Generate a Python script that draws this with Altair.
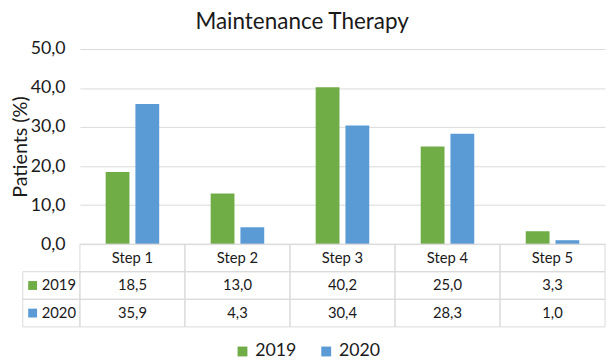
import altair as alt
import pandas as pd

# ---- data ----
steps = ["Step 1", "Step 2", "Step 3", "Step 4", "Step 5"]
years = ["2019", "2020"]
values_2019 = [18.5, 13.0, 40.2, 25.0, 3.3]
values_2020 = [35.9, 4.3, 30.4, 28.3, 1.0]
y_ticks = [0, 10, 20, 30, 40, 50]
row_keys = ["hdr", "2019", "2020"]
title_text = "Maintenance Therapy"
y_title = "Patients (%)"
colors = ["#70AD47", "#5B9BD5"]

F = "Lato"
TXT = "#1a1a1a"
GRID = "#D9D9D9"


def fmt(v):
    return f"{v:.1f}".replace(".", ",")


bar_rows = []
for s, a, b in zip(steps, values_2019, values_2020):
    bar_rows.append({"step": s, "year": years[0], "value": a})
    bar_rows.append({"step": s, "year": years[1], "value": b})
bars_df = pd.DataFrame(bar_rows)

cell_rows = []
for s in steps:
    cell_rows.append({"step": s, "row": "hdr", "text": s})
for s, a, b in zip(steps, values_2019, values_2020):
    cell_rows.append({"step": s, "row": years[0], "text": fmt(a)})
    cell_rows.append({"step": s, "row": years[1], "text": fmt(b)})
cells_df = pd.DataFrame(cell_rows)

labels_df = pd.DataFrame({"row": years, "year": years})

color_scale = alt.Scale(domain=years, range=colors)
legend = alt.Legend(
    title=None, orient="none", direction="horizontal", legendX=156, legendY=298,
    symbolType="square", symbolSize=100, symbolStrokeWidth=0,
    labelFont=F, labelFontSize=18, labelColor=TXT, columnPadding=21, labelOffset=4,
)

top = alt.Chart(bars_df).mark_bar().encode(
    x=alt.X("step:N", sort=steps,
            scale=alt.Scale(paddingInner=0.49, paddingOuter=0.245), axis=None),
    xOffset=alt.XOffset("year:N", sort=years,
                        scale=alt.Scale(paddingInner=0.2, paddingOuter=0)),
    y=alt.Y("value:Q", scale=alt.Scale(domain=[0, 50], nice=False),
            axis=alt.Axis(values=y_ticks,
                          labelExpr="replace(format(datum.value, '.1f'), '.', ',')",
                          title=y_title, grid=True, gridColor=GRID, domain=False,
                          ticks=False, labelPadding=15, labelFont=F, labelFontSize=18,
                          labelColor=TXT, titleFont=F, titleFontSize=20,
                          titleFontWeight="normal", titleColor=TXT, titlePadding=0)),
    color=alt.Color("year:N", scale=color_scale, legend=legend),
).properties(width=533, height=198)

x_tab = alt.X("step:N", sort=steps, scale=alt.Scale(paddingInner=0, paddingOuter=0), axis=None)
y_tab = alt.Y("row:N", scale=alt.Scale(domain=row_keys, paddingInner=0, paddingOuter=0), axis=None)

cell_rect = alt.Chart(cells_df).mark_rect(
    fill="white", fillOpacity=0, stroke=GRID, strokeWidth=1
).encode(x=x_tab, y=y_tab)
cell_text = alt.Chart(cells_df).mark_text(
    font=F, fontSize=15, color=TXT
).encode(x=x_tab, y=y_tab, text="text:N")
lab_rect = alt.Chart(labels_df).mark_rect(
    fill="white", fillOpacity=0, stroke=GRID, strokeWidth=1
).encode(x=alt.value(-58), x2=alt.value(0), y=y_tab)
lab_sq = alt.Chart(labels_df).mark_point(
    shape="square", filled=True, size=81, opacity=1
).encode(x=alt.value(-48), y=y_tab,
         color=alt.Color("year:N", scale=color_scale, legend=legend))
lab_text = alt.Chart(labels_df).mark_text(
    align="right", font=F, fontSize=15, color=TXT
).encode(x=alt.value(-4), y=y_tab, text="year:N")

bottom = alt.layer(cell_rect, cell_text, lab_rect, lab_sq, lab_text).properties(
    width=533, height=84)

chart = alt.vconcat(top, bottom, spacing=0, bounds="flush").properties(
    title=alt.TitleParams(title_text, font=F, fontSize=22.8, fontWeight="normal",
                          color=TXT, anchor="middle", offset=7, dx=-6),
    padding={"left": 2, "top": 0, "right": 0, "bottom": 0},
).configure_view(strokeWidth=0)

chart.save("out.html", embed_options={"renderer": "svg", "actions": False})
